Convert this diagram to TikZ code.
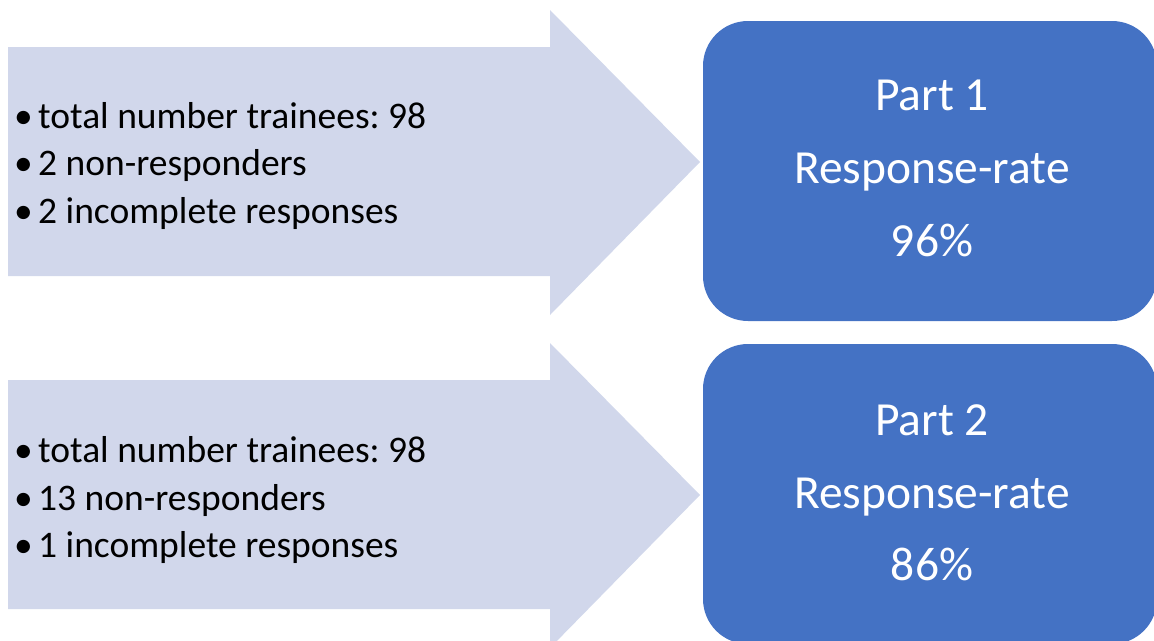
\documentclass[tikz,border=0pt]{standalone}
\usepackage{fontspec}
\setmainfont{Carlito}
\frenchspacing
\definecolor{arrowfill}{RGB}{209,215,235}
\definecolor{boxblue}{RGB}{68,114,196}
\begin{document}
\frenchspacing
\begin{tikzpicture}[x=1pt,y=-1pt,
  bigarrow/.style={fill=arrowfill},
  ratebox/.style={fill=boxblue, rounded corners=45pt, minimum width=454pt, minimum height=300pt, inner sep=0pt},
  listline/.style={anchor=base west, inner sep=0pt, font=\fontsize{37.5}{45}\selectfont},
  rateline/.style={anchor=base, inner sep=0pt, text=white, font=\fontsize{47.5}{57}\selectfont}]
\useasboundingbox (0,0) rectangle (1154,640);
% arrows
\fill[bigarrow] (8,47) -- (550,47) -- (550,10) -- (700,162) -- (550,315) -- (550,276) -- (8,276) -- cycle;
\fill[bigarrow] (8,380) -- (550,380) -- (550,343) -- (700,495) -- (550,648) -- (550,609) -- (8,609) -- cycle;
% boxes
\node[ratebox] (r1) at (930,171) {};
\node[ratebox] (r2) at (930,494) {};
% list 1
\node[listline] (a1) at (14,128) {\makebox[24pt][l]{•}total number trainees: 98};
\node[listline] (a2) at (14,175) {\makebox[24pt][l]{•}2 non-responders};
\node[listline] (a3) at (14,223) {\makebox[24pt][l]{•}2 incomplete responses};
% list 2
\node[listline] (c1) at (14,462) {\makebox[24pt][l]{•}total number trainees: 98};
\node[listline] (c2) at (14,510) {\makebox[24pt][l]{•}13 non-responders};
\node[listline] (c3) at (14,557) {\makebox[24pt][l]{•}1 incomplete responses};
% box texts
\node[rateline] (t11) at (932,110) {Part 1};
\node[rateline] (t12) at (932,183) {Response-rate};
\node[rateline] (t13) at (932,256) {96\%};
\node[rateline] (t21) at (932,435) {Part 2};
\node[rateline] (t22) at (932,508) {Response-rate};
\node[rateline] (t23) at (932,580) {86\%};
\end{tikzpicture}
\end{document}
